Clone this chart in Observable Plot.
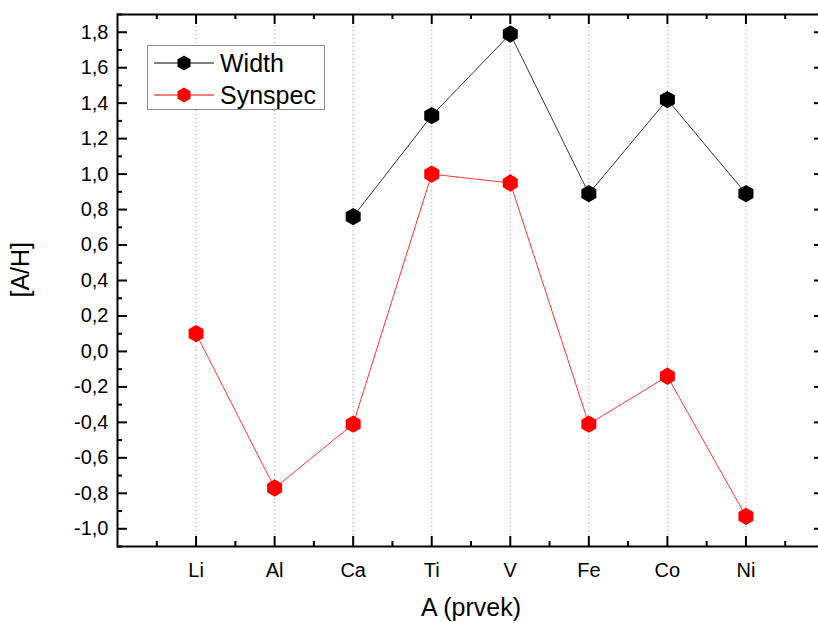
<!DOCTYPE html>
<html>
<head>
<meta charset="utf-8">
<script src="https://cdn.jsdelivr.net/npm/d3@7"></script>
<script src="https://cdn.jsdelivr.net/npm/@observablehq/plot@0.6"></script>
<style>
  body { margin: 0; background: #fff; }
  #wrap { position: relative; width: 818px; height: 623px; overflow: hidden; font-family: "Liberation Sans", Arial, sans-serif; }
  #legend { position: absolute; left: 147px; top: 45px; width: 178px; height: 65px; border: 1px solid #888; background: #fff; box-sizing: border-box; }
  .entry { position: absolute; left: 6px; height: 30px; display: flex; align-items: center; font-size: 25px; color: #000; }
  .entry svg { margin-right: 6px; }
</style>
</head>
<body>
<div id="wrap"></div>
<script>
const elements = ["Li", "Al", "Ca", "Ti", "V", "Fe", "Co", "Ni"];
const widthElements = ["Ca", "Ti", "V", "Fe", "Co", "Ni"];
const widthValues = [0.76, 1.33, 1.79, 0.89, 1.42, 0.89];
const synspecElements = ["Li", "Al", "Ca", "Ti", "V", "Fe", "Co", "Ni"];
const synspecValues = [0.10, -0.77, -0.41, 1.00, 0.95, -0.41, -0.14, -0.93];
const yTickValues = [-1.0, -0.8, -0.6, -0.4, -0.2, 0.0, 0.2, 0.4, 0.6, 0.8, 1.0, 1.2, 1.4, 1.6, 1.8];
const yMinorValues = [-1.1, -0.9, -0.7, -0.5, -0.3, -0.1, 0.1, 0.3, 0.5, 0.7, 0.9, 1.1, 1.3, 1.5, 1.7, 1.9];
const xMinorValues = [0.5, 1.5, 2.5, 3.5, 4.5, 5.5, 6.5, 7.5, 8.5];

const idx = e => elements.indexOf(e) + 1;
const widthData = widthElements.map((e, i) => ({x: idx(e), y: widthValues[i]}));
const synData = synspecElements.map((e, i) => ({x: idx(e), y: synspecValues[i]}));
const majorX = elements.map((e, i) => i + 1);
const fmt = v => d3.format(".1f")(v).replace("−", "-").replace(".", ",");

const W = 818, H = 623, mL = 117, mR = -6, mT = 14, mB = 77;
const innerW = W - mL - mR, innerH = H - mT - mB;

const chart = Plot.plot({
  width: W, height: H,
  marginLeft: mL, marginRight: mR, marginTop: mT, marginBottom: mB,
  style: {fontFamily: "Liberation Sans, Arial, sans-serif", background: "#fff", overflow: "hidden"},
  x: {type: "linear", domain: [0, 9], axis: null},
  y: {type: "linear", domain: [-1.1, 1.9], axis: null},
  marks: [
    Plot.ruleX(majorX, {x: d => d, stroke: "#999", strokeWidth: 1, strokeDasharray: "1,3"}),
    Plot.ruleX(majorX, {x: d => d, insetTop: innerH - 10, stroke: "#000", strokeWidth: 2}),
    Plot.ruleX(majorX, {x: d => d, insetBottom: innerH - 10, stroke: "#000", strokeWidth: 2}),
    Plot.ruleX(xMinorValues, {x: d => d, insetTop: innerH - 5, stroke: "#000", strokeWidth: 2}),
    Plot.ruleX(xMinorValues, {x: d => d, insetBottom: innerH - 5, stroke: "#000", strokeWidth: 2}),
    Plot.ruleY(yTickValues, {y: d => d, insetRight: innerW - 10, stroke: "#000", strokeWidth: 2}),
    Plot.ruleY(yTickValues, {y: d => d, insetLeft: innerW - 10, stroke: "#000", strokeWidth: 2}),
    Plot.ruleY(yMinorValues, {y: d => d, insetRight: innerW - 5, stroke: "#000", strokeWidth: 2}),
    Plot.ruleY(yMinorValues, {y: d => d, insetLeft: innerW - 5, stroke: "#000", strokeWidth: 2}),
    Plot.frame({stroke: "#000", strokeWidth: 2}),
    Plot.text(yTickValues, {y: d => d, text: d => fmt(d), frameAnchor: "left", dx: -9, textAnchor: "end", fontSize: 20, fill: "#000"}),
    Plot.text(majorX, {x: d => d, text: d => elements[d - 1], frameAnchor: "bottom", dy: 24, fontSize: 20, fill: "#000", lineAnchor: "middle"}),
    Plot.text(["A (prvek)"], {frameAnchor: "bottom", dy: 61, fontSize: 25, fill: "#000", lineAnchor: "middle"}),
    Plot.text(["[A/H]"], {frameAnchor: "left", dx: -97, dy: 17, rotate: -90, fontSize: 25, fill: "#000", lineAnchor: "middle"}),
    Plot.line(widthData, {x: "x", y: "y", stroke: "#000", strokeWidth: 0.8}),
    Plot.line(synData, {x: "x", y: "y", stroke: "#ff0000", strokeWidth: 0.8}),
    Plot.dot(widthData, {x: "x", y: "y", symbol: "hexagon", r: 7.5, fill: "#000", stroke: "none"}),
    Plot.dot(synData, {x: "x", y: "y", symbol: "hexagon", r: 7.5, fill: "#ff0000", stroke: "none"})
  ]
});

const wrap = document.getElementById("wrap");
wrap.appendChild(chart);

const hex = (color) => {
  const pts = d3.range(6).map(i => {
    const a = Math.PI / 3 * i - Math.PI / 2;
    return [30 + 7.5 * Math.cos(a), 8 + 7.5 * Math.sin(a)].join(",");
  }).join(" ");
  return `<svg width="60" height="16"><line x1="0" x2="60" y1="8" y2="8" stroke="${color}" stroke-width="1"/><polygon points="${pts}" fill="${color}"/></svg>`;
};
const legend = document.createElement("div");
legend.id = "legend";
legend.innerHTML =
  `<div class="entry" style="top:2px">${hex("#000")}<span>Width</span></div>` +
  `<div class="entry" style="top:34px">${hex("#ff0000")}<span>Synspec</span></div>`;
wrap.appendChild(legend);
</script>
</body>
</html>
